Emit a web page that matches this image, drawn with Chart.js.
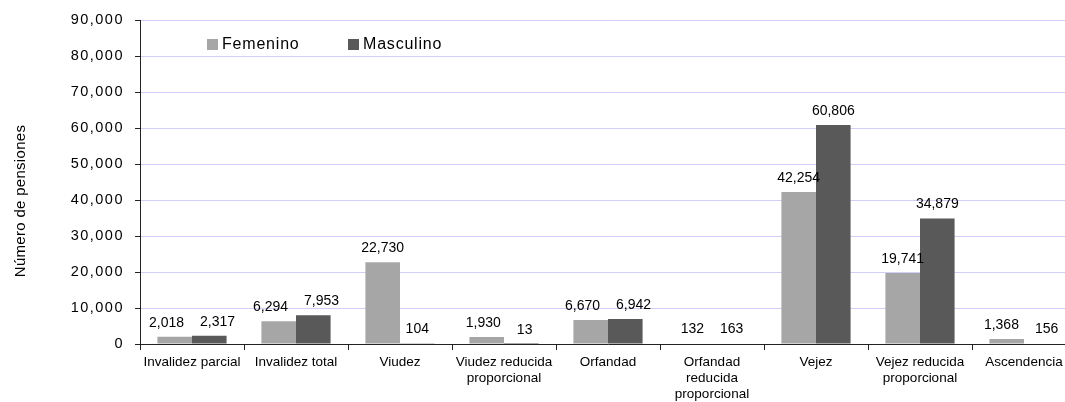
<!DOCTYPE html>
<html>
<head>
<meta charset="utf-8">
<script src="https://cdn.jsdelivr.net/npm/chart.js@4/dist/chart.umd.min.js"></script>
<style>
html,body{margin:0;padding:0;background:#fff;overflow:hidden;}
#wrap{width:1065px;height:402px;overflow:hidden;}
</style>
</head>
<body>
<div id="wrap"><canvas id="pensionesChart" width="1080" height="402"></canvas></div>
<script>
// Categorias
let categorias = [
"Invalidez parcial",
"Invalidez total",
"Viudez",
["Viudez reducida","proporcional"],
"Orfandad",
["Orfandad","reducida","proporcional"],
"Vejez",
["Vejez reducida","proporcional"],
"Ascendencia"
];

// Numero de pensiones por sexo
let femenino = [2018, 6294, 22730, 1930, 6670, 132, 42254, 19741, 1368];
let masculino = [2317, 7953, 104, 13, 6942, 163, 60806, 34879, 156];

// Eje Y
let yTicks = [0, 10000, 20000, 30000, 40000, 50000, 60000, 70000, 80000, 90000];
let tituloY = "Número de pensiones";

const fuente = "'Liberation Sans', Arial, sans-serif";
const fmt = v => v.toLocaleString('en-US');

// etiquetas de datos arriba de cada barra (se separan si chocan)
const etiquetas = {
id: 'etiquetas',
afterDatasetsDraw(chart){
const ctx = chart.ctx;
ctx.save();
ctx.font = "14px " + fuente;
ctx.fillStyle = "#000";
ctx.textAlign = "center";
ctx.textBaseline = "bottom";
const m0 = chart.getDatasetMeta(0).data;
const m1 = chart.getDatasetMeta(1).data;
chart.data.labels.forEach((c, j) => {
const t0 = fmt(chart.data.datasets[0].data[j]);
const t1 = fmt(chart.data.datasets[1].data[j]);
let x0 = m0[j].x, x1 = m1[j].x;
const y0 = m0[j].y - 7, y1 = m1[j].y - 7;
if (Math.abs(y0 - y1) < 16) {
const need = (ctx.measureText(t0).width + ctx.measureText(t1).width) / 2 + 16;
const d = x1 - x0;
if (d < need) { x0 -= (need - d) / 2; x1 += (need - d) / 2; }
}
ctx.fillText(t0, x0, y0);
ctx.fillText(t1, x1, y1);
});
ctx.restore();
}
};

// leyenda dentro del area y titulo del eje
const leyenda = {
id: 'leyenda',
afterDraw(chart){
const ctx = chart.ctx;
const a = chart.chartArea;
const xs = [a.left + 67, a.left + 208];
ctx.save();
ctx.font = "16px " + fuente;
ctx.letterSpacing = "0.8px";
ctx.textBaseline = "middle";
ctx.textAlign = "left";
chart.data.datasets.forEach((ds, i) => {
ctx.fillStyle = ds.backgroundColor;
ctx.fillRect(xs[i], a.top + 19, 11, 11);
ctx.fillStyle = "#000";
ctx.fillText(ds.label, xs[i] + 15, a.top + 25);
});
ctx.letterSpacing = "0.3px";
ctx.font = "15px " + fuente;
ctx.textAlign = "center";
ctx.translate(21, 201);
ctx.rotate(-Math.PI / 2);
ctx.fillText(tituloY, 0, 0);
ctx.restore();
}
};

// numeros del eje Y un poco mas espaciados
const espaciado = {
id: 'espaciado',
afterLayout(chart){
const s = chart.scales.y;
if (s._espaciado) return;
const orig = s.drawLabels;
s.drawLabels = function(area){
const ctx = this.ctx;
ctx.save();
ctx.letterSpacing = "1.5px";
orig.call(this, area);
ctx.restore();
};
s._espaciado = true;
}
};

new Chart(document.getElementById("pensionesChart"), {
type: 'bar',
data: {
labels: categorias,
datasets: [
{ label: "Femenino", data: femenino, backgroundColor: "#a6a6a6" },
{ label: "Masculino", data: masculino, backgroundColor: "#595959" }
]
},
options: {
responsive: false,
animation: false,
devicePixelRatio: 1,
layout: { padding: { top: 20, right: 4, left: 0, bottom: 0 } },
datasets: { bar: { categoryPercentage: 0.665, barPercentage: 1 } },
plugins: {
legend: { display: false },
tooltip: { enabled: false }
},
scales: {
x: {
afterFit: s => { s.height = 58; },
grid: { offset: true, drawOnChartArea: false, tickLength: 6, color: "#222" },
border: { color: "#222" },
ticks: {
autoSkip: false, maxRotation: 0, padding: 4, color: "#000",
font: { family: fuente, size: 13.5, lineHeight: 1.18 }
}
},
y: {
min: 0, max: 90000,
afterFit: s => { s.width = 140; },
afterBuildTicks: s => { s.ticks = yTicks.map(v => ({ value: v })); },
grid: { color: "#cfcff7", tickColor: "#222", tickLength: 5 },
border: { color: "#222" },
ticks: {
padding: 11, color: "#000",
font: { family: fuente, size: 14.5 },
callback: v => fmt(v)
}
}
}
},
plugins: [etiquetas, leyenda, espaciado]
});
</script>
</body>
</html>
